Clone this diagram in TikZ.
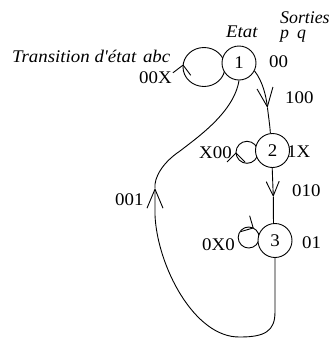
\documentclass[tikz,border=0pt]{standalone}
\usepackage{fontspec}
\setmainfont{Liberation Serif}[Ligatures=TeXOff, FakeStretch=1.06]
\newfontfamily\plainserif{Liberation Serif}[Ligatures=TeXOff]
\usetikzlibrary{arrows.meta,decorations.markings}
\pgfdeclarelayer{bg}
\pgfsetlayers{bg,main}
\tikzset{
  txt/.style={font=\fontsize{17.8bp}{20bp}\selectfont},
  state/.style={circle, draw, line width=0.9bp, fill=white, minimum size=34bp, inner sep=0pt, txt},
  lbl/.style={anchor=base west, inner sep=0pt, txt},
  ilbl/.style={anchor=base west, inner sep=0pt, font=\fontsize{17.8bp}{20bp}\selectfont\itshape},
  wire/.style={line width=0.9bp},
  bigchev/.style={-{Straight Barb[length=19bp,width=16bp]}},
  medchev/.style={-{Straight Barb[length=14.5bp,width=13bp]}},
  loopchev/.style={postaction={decorate, decoration={markings,
      mark=at position #1 with {\arrow{Straight Barb[length=9bp,width=18bp]}}}}},
}
\begin{document}
\begin{tikzpicture}[x=1bp, y=-1bp]
\useasboundingbox (0,0) rectangle (331,338);
% states
\node[state] (n1) at (239,63) {1};
\node[state] (n2) at (272.5,150.5) {2};
\node[state] (n3) at (275,240.5) {3};
% labels
\node[ilbl] (tr) at (12,62) {Transition d'état\hspace{0.38em}abc};
\node[lbl] (l00x) at (139,83) {00X};
\node[ilbl] (etat) at (226,37) {Etat};
\node[ilbl, align=left, font=\plainserif\fontsize{17.8bp}{15bp}\selectfont\itshape] (sort) at (280,38.3) {Sorties\\p\hspace{0.45em}q};
\node[lbl] (o1) at (269,67) {00};
\node[lbl] (t12) at (285,103) {100};
\node[lbl] (lx00) at (199,158) {X00};
\node[lbl] (o2) at (287,157) {1X};
\node[lbl] (t23) at (292,196) {010};
\node[lbl] (t31) at (115,205) {001};
\node[lbl] (l0x0) at (202,250) {0X0};
\node[lbl] (o3) at (302,248) {01};
\begin{pgfonlayer}{bg}
  \fill[white] (0,0) rectangle (331,338);
  % self loops
  \draw[wire, loopchev=0.52] (204,67) ellipse[x radius=21, y radius=19.5];
  \draw[wire, loopchev=0.5] (247,152.3) circle[radius=11];
  \draw[wire, loopchev=0.83] (248.7,237.5) circle[radius=10.5];
  % 1 -> 2
  \coordinate (k12) at (267.5,108);
  \draw[wire, bigchev] (n1.-27) .. controls (263,82) and (266,96) .. (k12);
  \draw[wire] (k12) .. controls (269,120) and (270,127) .. (n2.97);
  % 2 -> 3
  \coordinate (k23) at (273.3,197);
  \draw[wire, medchev] (n2.-91) -- (k23);
  \draw[wire] (k23) -- (n3.95);
  % 3 -> 1
  \coordinate (k31) at (155,188);
  \coordinate (kb) at (275,312);
  \draw[wire, bigchev] (n3.south) -- (kb) .. controls (275,331) and (265,337) .. (240,337)
     .. controls (194,338) and (157,265) .. (155,215) .. controls (155,205) and (155,196) .. (k31);
  \draw[wire] (k31) .. controls (154,178) and (162,163) .. (180,151)
     .. controls (198,137) and (234,112) .. (n1.south);
\end{pgfonlayer}
\end{tikzpicture}
\end{document}
